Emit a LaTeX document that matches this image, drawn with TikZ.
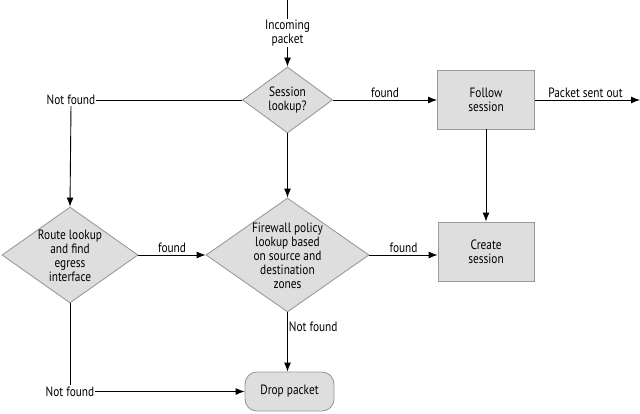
\documentclass[tikz,border=0pt]{standalone}
\usepackage{fontspec}
\setmainfont[FakeStretch=0.84]{PT Sans}
\usetikzlibrary{shapes.geometric,arrows.meta}
\definecolor{boxfill}{HTML}{DEDEDE}
\definecolor{boxline}{HTML}{9A9A9A}
\tikzset{
  dia/.style={diamond, draw=boxline, fill=boxfill, line width=0.9pt, inner sep=0pt},
  procbox/.style={rectangle, draw=boxline, fill=boxfill, line width=0.9pt, inner sep=0pt, align=center},
  termbox/.style={rectangle, rounded corners=12pt, draw=boxline, fill=boxfill, line width=0.9pt, inner sep=0pt},
  txt/.style={align=center, inner sep=1pt, font=\fontsize{13.5}{14}\selectfont},
  conn/.style={line width=0.9pt, draw=black},
  arr/.style={conn, -{Latex[length=9pt,width=7pt]}},
}
\begin{document}
\begin{tikzpicture}[x=1pt,y=-1pt]
\useasboundingbox (0,0) rectangle (640,413);
% shapes
\node[dia, minimum width=90pt, minimum height=66pt] (sess) at (287.5,100) {};
\node[txt] (sesst) at (sess) {Session\\lookup?};
\node[procbox, minimum width=97pt, minimum height=59pt, txt] (follow) at (486,99.5) {Follow\\session};
\node[dia, minimum width=136pt, minimum height=96pt] (route) at (70,255) {};
\node[txt] (routet) at (70,256) {Route lookup\\and find\\egress\\interface};
\node[dia, minimum width=163pt, minimum height=114pt] (fw) at (287.5,255) {};
\node[txt] (fwt) at (287.5,256) {Firewall policy\\lookup based\\on source and\\destination\\zones};
\node[procbox, minimum width=96pt, minimum height=59pt, txt] (create) at (486,251.5) {Create\\session};
\node[termbox, minimum width=89pt, minimum height=39pt, txt] (drop) at (289.5,391.5) {Drop packet};
% free text nodes
\coordinate (top) at (287.5,0);
\node[txt] (inc) at (287.5,33) {Incoming\\packet};
\node[txt] (nf1) at (71,100) {Not found};
\node[txt] (nf2) at (70,391.5) {Not found};
\coordinate (out) at (640,100);
% connectors
\draw[conn] (top) -- (inc.north);
\draw[arr] (inc.south) -- (sess.north);
\draw[arr] (sess.east) -- node[txt, above, yshift=1pt] (l1) {found} (sess.east -| follow.west);
\draw[arr] (sess.east -| follow.east) -- node[txt, above, yshift=1pt, xshift=-2pt] (l2) {Packet sent out} (out);
\draw[conn] (sess.west) -- (nf1.east);
\draw[arr] (nf1.south) -- (route.north);
\draw[arr] (sess.south) -- (fw.north);
\draw[arr] (follow.south) -- (create.north);
\draw[arr] (route.east) -- node[txt, above, yshift=1pt] (l3) {found} (fw.west);
\draw[arr] (fw.east) -- node[txt, above, yshift=1pt] (l4) {found} (fw.east -| create.west);
\draw[arr] (fw.south) -- node[txt, right, pos=0.25] (l5) {Not found} (fw.south |- drop.north);
\draw[conn] (route.south) -- (nf2.north);
\draw[arr] (nf2.east) -- (drop.west);
\end{tikzpicture}
\end{document}
